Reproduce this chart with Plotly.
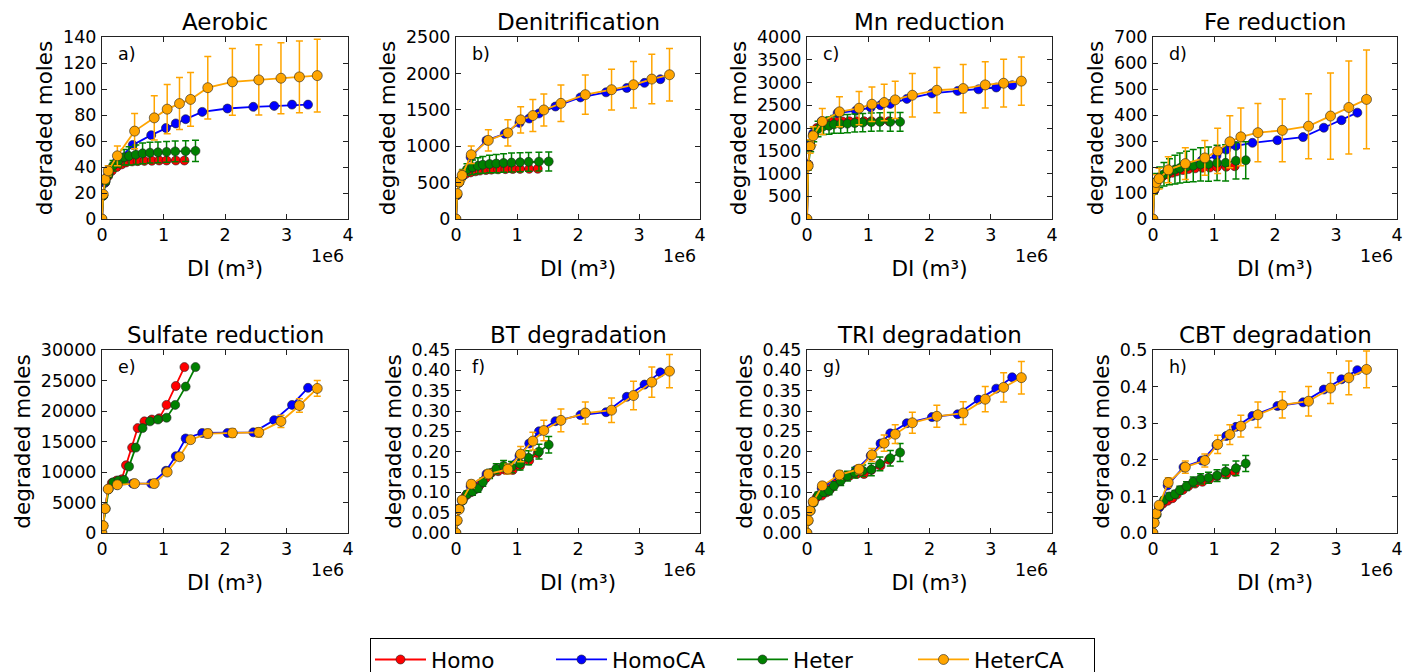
import plotly.graph_objects as go

# ---------------- data ----------------
SERIES_NAMES = ["Homo", "HomoCA", "Heter", "HeterCA"]
PANEL_TITLES = ["Aerobic", "Denitrification", "Mn reduction", "Fe reduction",
                "Sulfate reduction", "BT degradation", "TRI degradation", "CBT degradation"]
PANEL_LETTERS = ["a)", "b)", "c)", "d)", "e)", "f)", "g)", "h)"]
X_TICK_VALUES_1E6 = [0, 1, 2, 3, 4]
X_TICK_LABELS = ["0", "1", "2", "3", "4"]

# DI (in units of 1e6 m3) of each scenario
DI_HOMO = [0, 0.02, 0.05, 0.1, 0.16, 0.24, 0.32, 0.39, 0.49, 0.58, 0.69, 0.81, 0.93, 1.05, 1.2, 1.34]
DI_HOMOCA = [0, 0.02, 0.05, 0.1, 0.24, 0.5, 0.8, 1.04, 1.2, 1.36, 1.63, 2.04, 2.46, 2.8, 3.09, 3.35]
DI_HETER = [0, 0.02, 0.06, 0.11, 0.18, 0.27, 0.36, 0.44, 0.55, 0.66, 0.78, 0.91, 1.05, 1.19, 1.36, 1.52]
DI_HETERCA = [0, 0.02, 0.05, 0.1, 0.25, 0.53, 0.85, 1.06, 1.26, 1.44, 1.72, 2.12, 2.55, 2.91, 3.21, 3.5]

# a) Aerobic
AEROBIC_HOMO = [0, 18, 28, 33, 37, 40, 42, 43.5, 44.3, 44.5, 44.7, 44.8, 45, 45, 45, 45]
AEROBIC_HOMOCA = [0, 18, 28, 34, 44, 57, 64.5, 70, 73.5, 76.8, 82.4, 85, 86.3, 87, 88, 88]
AEROBIC_HETER = [0, 18, 29, 35, 41, 45, 47.5, 48.5, 49.5, 50.5, 51, 51.3, 51.6, 52, 52.2, 52.4]
AEROBIC_HETER_ERR = [0, 1, 2, 3, 4, 5, 6, 7, 7.5, 8, 8, 8, 8, 8, 8, 8.2]
AEROBIC_HETERCA = [0, 19, 30.5, 37, 48.6, 67.6, 77.8, 84.5, 88.8, 92, 101, 105.5, 107, 108.3, 109.3, 110.3]
AEROBIC_HETERCA_ERR = [0, 1.5, 2.5, 4, 7.6, 13.5, 17, 19, 20, 20.6, 24, 25.6, 27, 27.3, 27.6, 28]

# b) Denitrification
DENIT_HOMO = [0, 330, 500, 580, 620, 640, 655, 665, 672, 678, 682, 685, 687, 688, 689, 690]
DENIT_HOMOCA = [0, 330, 500, 580, 850, 1080, 1170, 1320, 1380, 1450, 1545, 1670, 1740, 1800, 1870, 1920]
DENIT_HETER = [0, 340, 520, 620, 680, 710, 730, 745, 755, 762, 770, 775, 780, 785, 788, 790]
DENIT_HETER_ERR = [0, 20, 40, 60, 80, 100, 110, 115, 120, 125, 128, 130, 130, 130, 130, 130]
DENIT_HETERCA = [0, 350, 510, 600, 883, 1080, 1184, 1362, 1421, 1498, 1589, 1708, 1776, 1844, 1922, 1981]
DENIT_HETERCA_ERR = [0, 30, 50, 70, 120, 145, 180, 180, 220, 220, 250, 270, 280, 320, 340, 360]

# c) Mn reduction
MN_HOMO = [0, 1200, 1650, 1850, 2000, 2080, 2110, 2130, 2140, 2145, 2150, 2150, 2150, 2150, 2150, 2150]
MN_HOMOCA = [0, 1200, 1650, 1880, 2150, 2330, 2380, 2450, 2500, 2530, 2640, 2760, 2815, 2850, 2890, 2940]
MN_HETER = [0, 1150, 1600, 1850, 1980, 2040, 2050, 2080, 2085, 2095, 2110, 2120, 2130, 2135, 2135, 2135]
MN_HETER_ERR = [0, 80, 120, 150, 170, 185, 190, 195, 200, 200, 200, 200, 200, 200, 205, 205]
MN_HETERCA = [0, 1170, 1594, 1828, 2143, 2355, 2435, 2523, 2560, 2618, 2720, 2830, 2867, 2947, 2984, 3030]
MN_HETERCA_ERR = [0, 90, 150, 200, 285, 330, 365, 380, 400, 410, 480, 497, 530, 510, 525, 530]

# d) Fe reduction
FE_HOMO = [0, 110, 140, 155, 165, 172, 178, 183, 188, 192, 195, 197, 198, 200, 201, 203]
FE_HOMOCA = [0, 110, 140, 160, 185, 205, 225, 243, 267, 281, 293, 303, 315, 351, 380, 409]
FE_HETER = [0, 115, 145, 160, 172, 182, 190, 196, 201, 205, 210, 211, 216, 216, 224, 226]
FE_HETER_ERR = [0, 20, 30, 40, 45, 50, 55, 58, 60, 62, 64, 66, 68, 70, 70, 71]
FE_HETERCA = [0, 117, 140, 155, 189, 213, 235, 262, 297, 316, 332, 341, 357, 396, 429, 460]
FE_HETERCA_ERR = [0, 20, 30, 40, 50, 61, 67, 87, 100, 111, 112, 121, 125, 166, 179, 190]

# e) Sulfate reduction
SULF_HOMO = [0, 1200, 4000, 7200, 8200, 8600, 8800, 11100, 14000, 17200, 18300, 18600, 18800, 21000, 24100, 27200]
SULF_HOMOCA = [0, 1200, 4000, 7200, 7900, 8100, 8100, 10200, 12600, 15500, 16400, 16400, 16500, 18500, 21000, 23800]
SULF_HETER = [0, 1200, 4000, 7200, 8300, 8600, 8700, 10900, 14000, 17200, 18300, 18600, 18900, 21000, 24000, 27200]
SULF_HETER_ERR = [0, 50, 80, 100, 120, 150, 150, 180, 200, 220, 250, 250, 250, 280, 300, 300]
SULF_HETERCA = [0, 1200, 4000, 7200, 7900, 8100, 8100, 10000, 12500, 15300, 16300, 16400, 16500, 18300, 20900, 23700]
SULF_HETERCA_ERR = [0, 100, 150, 200, 250, 300, 300, 350, 400, 450, 700, 700, 750, 1000, 1100, 1300]

# f) BT degradation
BT_HOMO = [0, 0.03, 0.06, 0.08, 0.092, 0.1, 0.108, 0.118, 0.135, 0.148, 0.152, 0.155, 0.155, 0.165, 0.178, 0.196]
BT_HOMOCA = [0, 0.03, 0.06, 0.08, 0.115, 0.145, 0.16, 0.19, 0.22, 0.25, 0.275, 0.29, 0.297, 0.335, 0.365, 0.395]
BT_HETER = [0, 0.03, 0.06, 0.08, 0.095, 0.102, 0.11, 0.125, 0.145, 0.158, 0.165, 0.162, 0.17, 0.185, 0.2, 0.217]
BT_HETER_ERR = [0, 0.003, 0.005, 0.007, 0.008, 0.009, 0.01, 0.01, 0.011, 0.012, 0.013, 0.014, 0.015, 0.017, 0.018, 0.02]
BT_HETERCA = [0, 0.031, 0.058, 0.081, 0.12, 0.145, 0.157, 0.194, 0.226, 0.252, 0.277, 0.295, 0.302, 0.338, 0.371, 0.398]
BT_HETERCA_ERR = [0, 0.003, 0.005, 0.006, 0.01, 0.01, 0.012, 0.019, 0.022, 0.025, 0.028, 0.027, 0.03, 0.035, 0.037, 0.041]

# g) TRI degradation
TRI_HOMO = [0, 0.03, 0.055, 0.075, 0.088, 0.092, 0.1, 0.11, 0.125, 0.135, 0.14, 0.145, 0.145, 0.155, 0.165, 0.18]
TRI_HOMOCA = [0, 0.03, 0.055, 0.075, 0.11, 0.14, 0.155, 0.19, 0.22, 0.245, 0.27, 0.285, 0.292, 0.328, 0.355, 0.383]
TRI_HETER = [0, 0.03, 0.055, 0.075, 0.092, 0.1, 0.104, 0.116, 0.128, 0.14, 0.148, 0.153, 0.156, 0.17, 0.184, 0.198]
TRI_HETER_ERR = [0, 0.003, 0.005, 0.007, 0.008, 0.009, 0.01, 0.01, 0.011, 0.012, 0.013, 0.014, 0.015, 0.017, 0.019, 0.022]
TRI_HETERCA = [0, 0.031, 0.055, 0.077, 0.116, 0.143, 0.157, 0.192, 0.221, 0.243, 0.271, 0.287, 0.295, 0.329, 0.358, 0.382]
TRI_HETERCA_ERR = [0, 0.003, 0.005, 0.006, 0.008, 0.01, 0.011, 0.016, 0.02, 0.023, 0.026, 0.027, 0.028, 0.031, 0.036, 0.04]

# h) CBT degradation
CBT_HOMO = [0, 0.028, 0.05, 0.07, 0.08, 0.088, 0.095, 0.105, 0.118, 0.128, 0.135, 0.14, 0.148, 0.155, 0.16, 0.167]
CBT_HOMOCA = [0, 0.028, 0.05, 0.07, 0.13, 0.18, 0.198, 0.24, 0.265, 0.29, 0.32, 0.347, 0.357, 0.392, 0.42, 0.445]
CBT_HETER = [0, 0.028, 0.05, 0.075, 0.09, 0.1, 0.106, 0.117, 0.128, 0.14, 0.148, 0.151, 0.157, 0.168, 0.177, 0.19]
CBT_HETER_ERR = [0, 0.003, 0.005, 0.007, 0.008, 0.009, 0.01, 0.011, 0.012, 0.013, 0.014, 0.015, 0.016, 0.018, 0.02, 0.022]
CBT_HETERCA = [0, 0.028, 0.053, 0.076, 0.138, 0.18, 0.198, 0.242, 0.269, 0.292, 0.323, 0.35, 0.36, 0.396, 0.424, 0.447]
CBT_HETERCA_ERR = [0, 0.004, 0.006, 0.008, 0.013, 0.017, 0.018, 0.025, 0.027, 0.03, 0.035, 0.036, 0.04, 0.042, 0.046, 0.05]

# ---------------- assembly ----------------
PANELS = [
    (AEROBIC_HOMO, AEROBIC_HOMOCA, AEROBIC_HETER, AEROBIC_HETER_ERR, AEROBIC_HETERCA, AEROBIC_HETERCA_ERR),
    (DENIT_HOMO, DENIT_HOMOCA, DENIT_HETER, DENIT_HETER_ERR, DENIT_HETERCA, DENIT_HETERCA_ERR),
    (MN_HOMO, MN_HOMOCA, MN_HETER, MN_HETER_ERR, MN_HETERCA, MN_HETERCA_ERR),
    (FE_HOMO, FE_HOMOCA, FE_HETER, FE_HETER_ERR, FE_HETERCA, FE_HETERCA_ERR),
    (SULF_HOMO, SULF_HOMOCA, SULF_HETER, SULF_HETER_ERR, SULF_HETERCA, SULF_HETERCA_ERR),
    (BT_HOMO, BT_HOMOCA, BT_HETER, BT_HETER_ERR, BT_HETERCA, BT_HETERCA_ERR),
    (TRI_HOMO, TRI_HOMOCA, TRI_HETER, TRI_HETER_ERR, TRI_HETERCA, TRI_HETERCA_ERR),
    (CBT_HOMO, CBT_HOMOCA, CBT_HETER, CBT_HETER_ERR, CBT_HETERCA, CBT_HETERCA_ERR),
]
Y_MAX = [140, 2500, 4000, 700, 30000, 0.45, 0.45, 0.5]
Y_DTICK = [20, 500, 500, 100, 5000, 0.05, 0.05, 0.1]
Y_FORMAT = ["d", "d", "d", "d", "d", ".2f", ".2f", ".1f"]

COLORS = {"Homo": "#ff0000", "HomoCA": "#0000ff", "Heter": "#008000", "HeterCA": "#ffa500"}
DI_BY_SERIES = {"Homo": DI_HOMO, "HomoCA": DI_HOMOCA, "Heter": DI_HETER, "HeterCA": DI_HETERCA}

W, H = 1411, 672
COL_PX = [(102, 348), (456, 700), (807, 1052), (1153, 1397)]
ROW_PX = [(37, 219), (350, 533)]

FONT = "DejaVu Sans, Liberation Sans, sans-serif"
TICK_SIZE = 17.5
LABEL_SIZE = 21.5
TITLE_SIZE = 23

fig = go.Figure()
layout = dict(
    template="none",
    width=W, height=H,
    margin=dict(l=0, r=0, t=0, b=0, pad=0, autoexpand=False),
    paper_bgcolor="white", plot_bgcolor="white",
    font=dict(family=FONT, color="black", size=TICK_SIZE),
    showlegend=True,
    annotations=[],
)

for i in range(8):
    r, c = divmod(i, 4)
    x0, x1 = COL_PX[c]
    yt, yb = ROW_PX[r]
    idx = "" if i == 0 else str(i + 1)
    xa, ya = "x" + idx, "y" + idx
    homo, homoca, heter, heter_err, heterca, heterca_err = PANELS[i]
    series = [("Homo", homo, None), ("HomoCA", homoca, None),
              ("Heter", heter, heter_err), ("HeterCA", heterca, heterca_err)]
    for name, ys, err in series:
        col = COLORS[name]
        tr = go.Scatter(
            x=[v * 1e6 for v in DI_BY_SERIES[name]], y=ys,
            mode="lines+markers", name=name, legendgroup=name,
            showlegend=(i == 0),
            line=dict(color=col, width=1.8),
            marker=dict(color=col, size=9 if name != "HeterCA" else 10,
                        line=dict(color="#222222", width=0.6)),
            xaxis=xa, yaxis=ya,
        )
        if err is not None:
            tr.error_y = dict(type="data", array=err, visible=True,
                              color=col, thickness=1.5, width=3.5)
        fig.add_trace(tr)

    axis_common = dict(
        automargin=False,
        showline=True, linecolor="#222222", linewidth=1, mirror="ticks",
        ticks="inside", ticklen=5, tickwidth=1, tickcolor="#222222",
        showgrid=False, zeroline=False,
        tickfont=dict(family=FONT, size=TICK_SIZE, color="black"),
    )
    layout["xaxis" + idx] = dict(
        axis_common,
        domain=[x0 / W, x1 / W], anchor=ya,
        range=[0, 4e6],
        tickvals=[v * 1e6 for v in X_TICK_VALUES_1E6], ticktext=X_TICK_LABELS,
        ticklabelstandoff=0,
        title=dict(text="DI (m³)", font=dict(family=FONT, size=LABEL_SIZE, color="black"), standoff=16),
    )
    layout["yaxis" + idx] = dict(
        axis_common,
        domain=[1 - yb / H, 1 - yt / H], anchor=xa,
        range=[0, Y_MAX[i]], dtick=Y_DTICK[i], tick0=0, tickformat=Y_FORMAT[i],
        ticklabelstandoff=1,
        title=dict(text="degraded moles", font=dict(family=FONT, size=LABEL_SIZE, color="black"), standoff=4),
    )
    # panel title
    layout["annotations"].append(dict(
        text=PANEL_TITLES[i], xref="paper", yref="paper",
        x=(x0 + x1) / 2 / W, y=1 - yt / H, xanchor="center", yanchor="bottom",
        showarrow=False, font=dict(family=FONT, size=TITLE_SIZE, color="black")))
    # panel letter
    layout["annotations"].append(dict(
        text=PANEL_LETTERS[i], xref="paper", yref="paper",
        x=(x0 + 14) / W, y=1 - (yt + 17) / H, xanchor="left", yanchor="middle",
        showarrow=False, font=dict(family=FONT, size=TICK_SIZE, color="black")))
    # offset text
    layout["annotations"].append(dict(
        text="1e6", xref="paper", yref="paper",
        x=(x1 - 2) / W, y=1 - (yb + 37) / H, xanchor="right", yanchor="middle",
        showarrow=False, font=dict(family=FONT, size=TICK_SIZE, color="black")))

layout["legend"] = dict(
    orientation="h", x=370 / W, y=1 - 638 / H, xanchor="left", yanchor="top",
    bordercolor="black", borderwidth=1, bgcolor="white",
    font=dict(family=FONT, size=21.5, color="black"),
    itemwidth=51, entrywidth=115, entrywidthmode="pixels",
)

fig.update_layout(**layout)
fig.write_html(
    "out.html",
    config={"displayModeBar": False},
    post_script="document.body.style.margin='0';document.body.style.overflow='hidden';",
)
